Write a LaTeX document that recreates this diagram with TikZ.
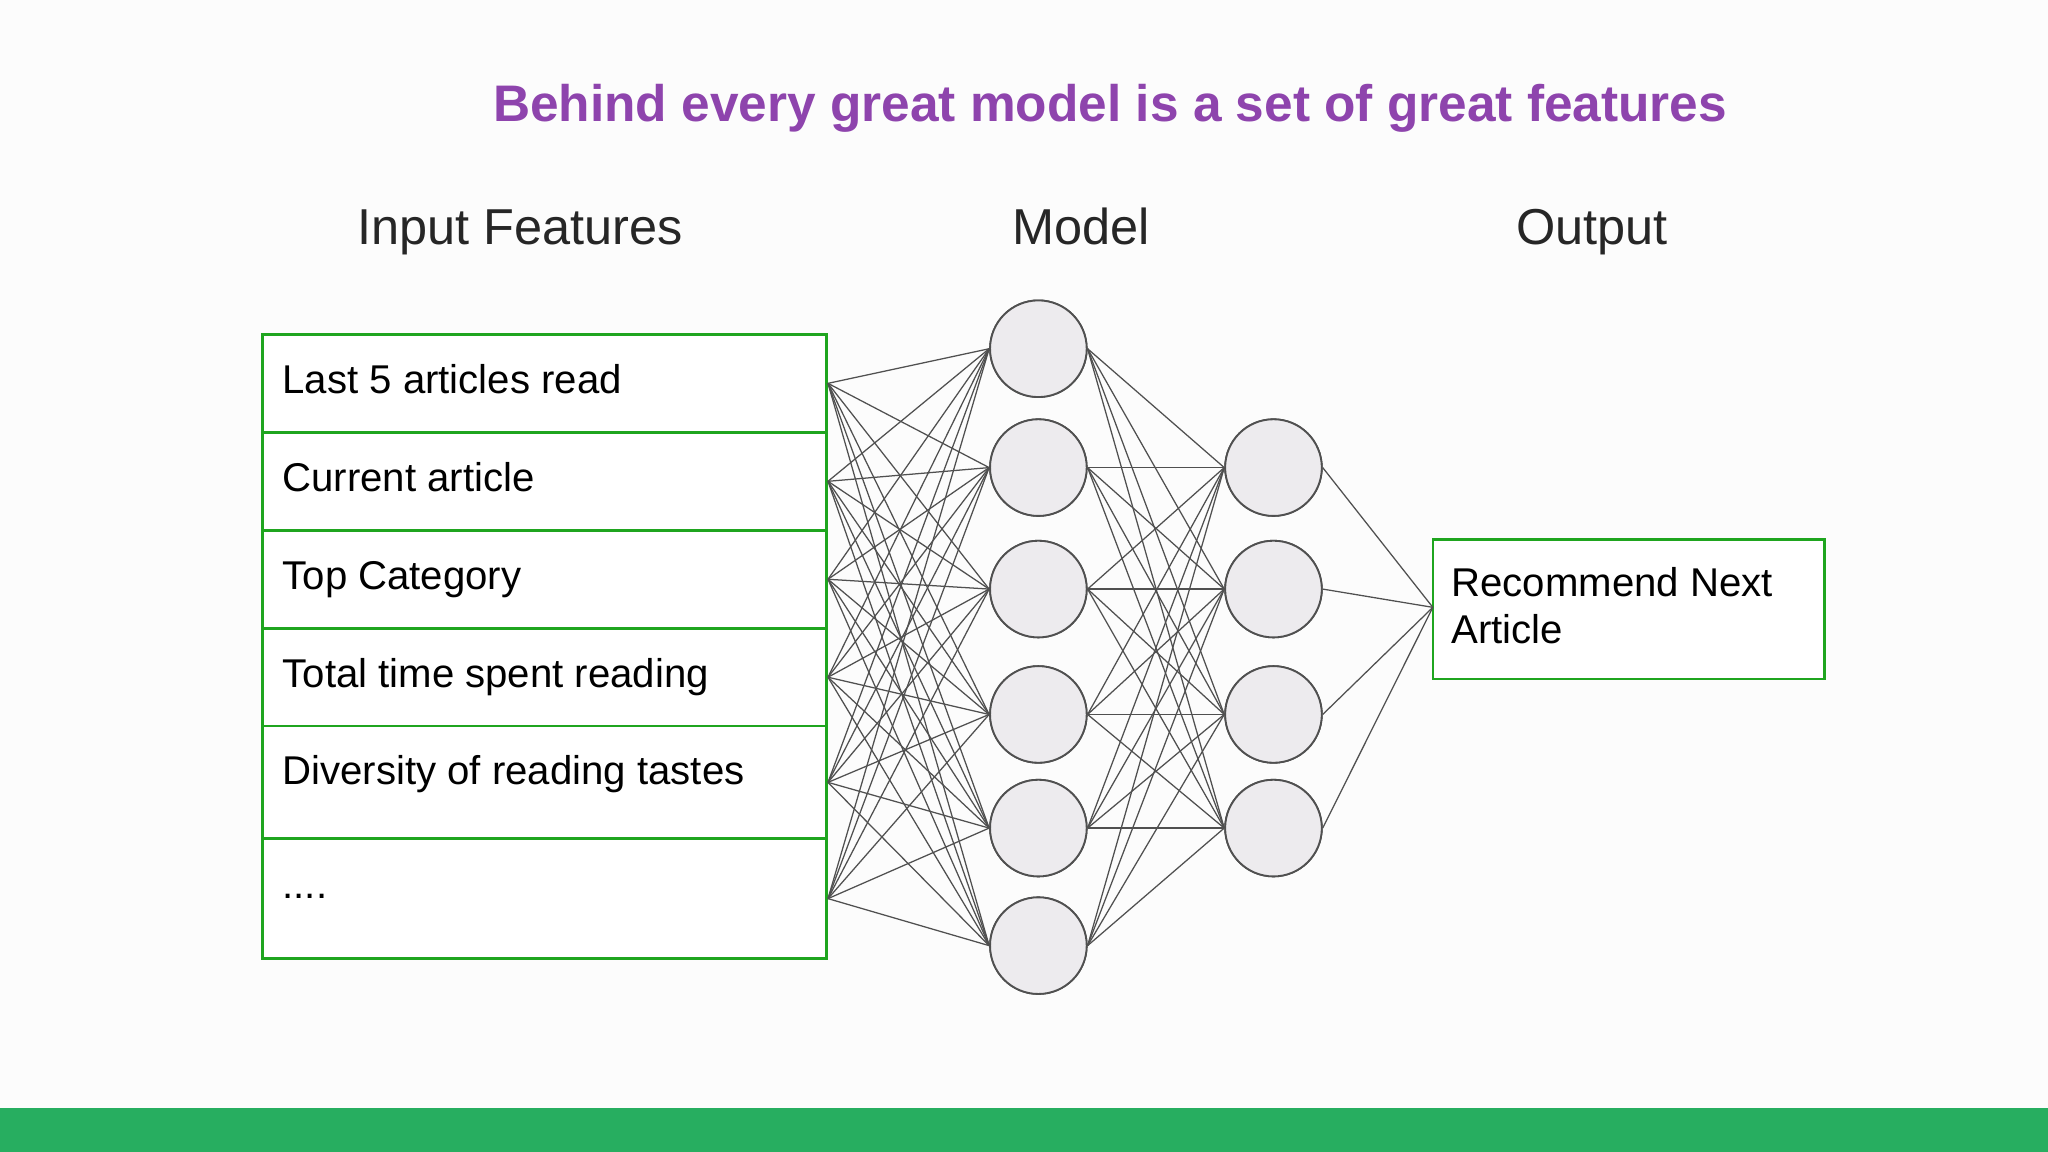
\documentclass[tikz,border=0pt]{standalone}
\usepackage{fontspec}
\setmainfont{Liberation Sans}
\definecolor{titlepurple}{HTML}{8E44AD}
\definecolor{boxgreen}{HTML}{1FA51F}
\definecolor{bargreen}{HTML}{27AE60}
\definecolor{neuronfill}{HTML}{EDEBEE}
\definecolor{wiregray}{HTML}{505050}
\tikzset{
  row/.style={draw=boxgreen,line width=1.1pt,fill=white,minimum width=8.64cm,inner sep=0pt},
  rowtext/.style={anchor=base west,inner sep=0pt,font=\fontsize{17.5}{20.5}\selectfont},
  neuron/.style={circle,draw=wiregray,line width=0.8pt,fill=neuronfill,minimum size=1.48cm,inner sep=0pt},
  wire/.style={draw=wiregray,line width=0.55pt},
  heading/.style={anchor=base,font=\fontsize{22}{27}\selectfont,text=black!85}
}
\begin{document}
\begin{tikzpicture}[x=0.02cm,y=-0.02cm]
  \useasboundingbox[fill=white!98!gray] (0,0) rectangle (1568,882);
  \fill[bargreen] (0,848) rectangle (1568,882);

  \node[anchor=base,font=\bfseries\fontsize{22.4}{27}\selectfont,text=titlepurple] (title) at (850,93) {Behind every great model is a set of great features};
  \node[heading] (hin) at (398,187) {Input Features};
  \node[heading] (hmodel) at (828,187) {Model};
  \node[heading] (hout) at (1219,187) {Output};

  % input feature rows
  \node[row,minimum height=1.5cm] (r1) at (417,293.5) {};
  \node[row,minimum height=1.5cm] (r2) at (417,368.5) {};
  \node[row,minimum height=1.5cm] (r3) at (417,443.5) {};
  \node[row,minimum height=1.5cm] (r4) at (417,518.5) {};
  \node[row,minimum height=1.72cm] (r5) at (417,599) {};
  \node[row,minimum height=1.84cm] (r6) at (417,688) {};
  \node[rowtext] (t1) at (216,301) {Last 5 articles read};
  \node[rowtext] (t2) at (216,376) {Current article};
  \node[rowtext] (t3) at (216,451) {Top Category};
  \node[rowtext] (t4) at (216,526) {Total time spent reading};
  \node[rowtext] (t5) at (216,601) {Diversity of reading tastes};
  \node[rowtext] (t6) at (216,688) {....};

  % output box
  \node[row,minimum width=6cm,minimum height=2.14cm] (out) at (1247,466.5) {};
  \node[rowtext,align=left] (tout) at (1111,493) {Recommend Next\\Article};
  \coordinate (outin) at (1097,465);

  % hidden layers
  \foreach \i/\y in {1/267,2/358,3/451,4/547,5/634,6/724}
    \node[neuron] (a\i) at (795,\y) {};
  \foreach \i/\y in {1/358,2/451,3/547,4/634}
    \node[neuron] (b\i) at (975,\y) {};

  % connections
  \foreach \r in {1,...,6}
    \foreach \i in {1,...,6}
      \draw[wire] (r\r.east) -- (a\i.west);
  \foreach \i in {1,...,6}
    \foreach \j in {1,...,4}
      \draw[wire] (a\i.east) -- (b\j.west);
  \foreach \j in {1,...,4}
    \draw[wire] (b\j.east) -- (outin);
  \foreach \i in {1,...,6}
    \node[neuron] at (a\i) {};
  \foreach \j in {1,...,4}
    \node[neuron] at (b\j) {};
\end{tikzpicture}
\end{document}
